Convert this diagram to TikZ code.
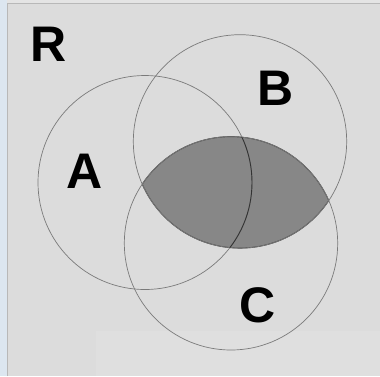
\documentclass[tikz,border=0pt]{standalone}
\usepackage{fontspec}
\setmainfont{Liberation Sans}
\definecolor{bgfill}{HTML}{DCDCDC}
\definecolor{bgpatch}{HTML}{DFDFDF}
\definecolor{bluestrip}{HTML}{DCE6F0}
\definecolor{edgeline}{HTML}{B8B8B8}
\definecolor{topband}{HTML}{E4E4E4}
\definecolor{lensgray}{HTML}{878787}
\definecolor{circline}{HTML}{7A7A7A}
\tikzset{
  setcircle/.style={draw=circline, line width=0.7pt},
  setlabel/.style={font=\fontsize{50}{50}\selectfont\bfseries, inner sep=0pt, text=black},
}
\begin{document}
\begin{tikzpicture}[x=1pt,y=-1pt]
\useasboundingbox (0,0) rectangle (380,376);
\fill[bgfill] (0,0) rectangle (380,376);
\fill[topband] (0,0) rectangle (380,3);
\fill[bgpatch] (96,331) rectangle (380,376);
\fill[bluestrip] (0,0) rectangle (7,376);
\draw[edgeline, line width=1.2pt] (7.6,376) -- (7.6,3.6) -- (380,3.6);
% shaded B intersect C
\begin{scope}
  \clip (240,141.4) circle [radius=106.7];
  \fill[lensgray] (231,243.3) circle [radius=106.7];
\end{scope}
\begin{scope}
  \clip (240,141.4) circle [radius=106.7];
  \draw[black!75, line width=0.9pt] (231,243.3) circle [radius=106.7];
\end{scope}
\begin{scope}
  \clip (231,243.3) circle [radius=106.7];
  \draw[black!75, line width=0.9pt] (240,141.4) circle [radius=106.7];
\end{scope}
\node[setcircle, circle, minimum size=214pt, inner sep=0pt] (A) at (145,182.5) {};
\node[setcircle, circle, minimum size=213.4pt, inner sep=0pt] (B) at (240,141.4) {};
\node[setcircle, circle, minimum size=213.4pt, inner sep=0pt] (C) at (231,243.3) {};
\begin{scope}
  \clip (240,141.4) circle [radius=106.7];
  \clip (231,243.3) circle [radius=106.7];
  \draw[black!80, line width=0.9pt] (145,182.5) circle [radius=107];
\end{scope}
\node[setlabel] (R) at (49,44) {R};
\node[setlabel] (Bl) at (276,88.5) {B};
\node[setlabel] (Al) at (84.5,171) {A};
\node[setlabel] (Cl) at (257.5,305) {C};
\end{tikzpicture}
\end{document}
